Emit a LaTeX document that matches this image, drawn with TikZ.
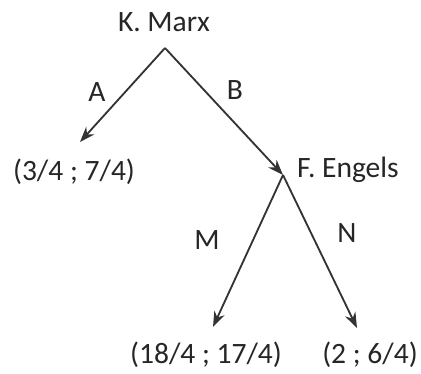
\documentclass[tikz,border=0pt]{standalone}
\usepackage{fontspec}
\setmainfont{Carlito}
\usetikzlibrary{arrows.meta}
\begin{document}
\begin{tikzpicture}[x=0.025cm, y=-0.025cm, >={Stealth[length=11pt, width=8pt]},
    lbl/.style={text=black!85, font=\fontsize{21}{25}\selectfont, inner sep=0pt},
    move/.style={->, black!80, line width=1.3pt}]
    \useasboundingbox (0,0) rectangle (421,374);

    % Spillere
    \node[lbl] (marxname) at (164,22) {K. Marx};
    \node[lbl] (engelsname) at (348,170) {F. Engels};
    \coordinate (marx) at (165,48);
    \coordinate (engels) at (283,175);

    % Utfall
    \node[lbl] (payA) at (74,172) {(3/4 ; 7/4)};
    \node[lbl] (payM) at (206,355) {(18/4 ; 17/4)};
    \node[lbl] (payN) at (370,355) {(2 ; 6/4)};
    \coordinate (endA) at (80,142);
    \coordinate (endM) at (213,327);
    \coordinate (endN) at (357,328);

    % Trekk
    \draw[move] (marx) -- (endA);
    \draw[move] (marx) -- (engels);
    \draw[move] (engels) -- (endM);
    \draw[move] (engels) -- (endN);
    \node[lbl] at (97,92) {A};
    \node[lbl] at (235,90) {B};
    \node[lbl] at (207,240) {M};
    \node[lbl] at (347,233) {N};
  \end{tikzpicture}
\end{document}
